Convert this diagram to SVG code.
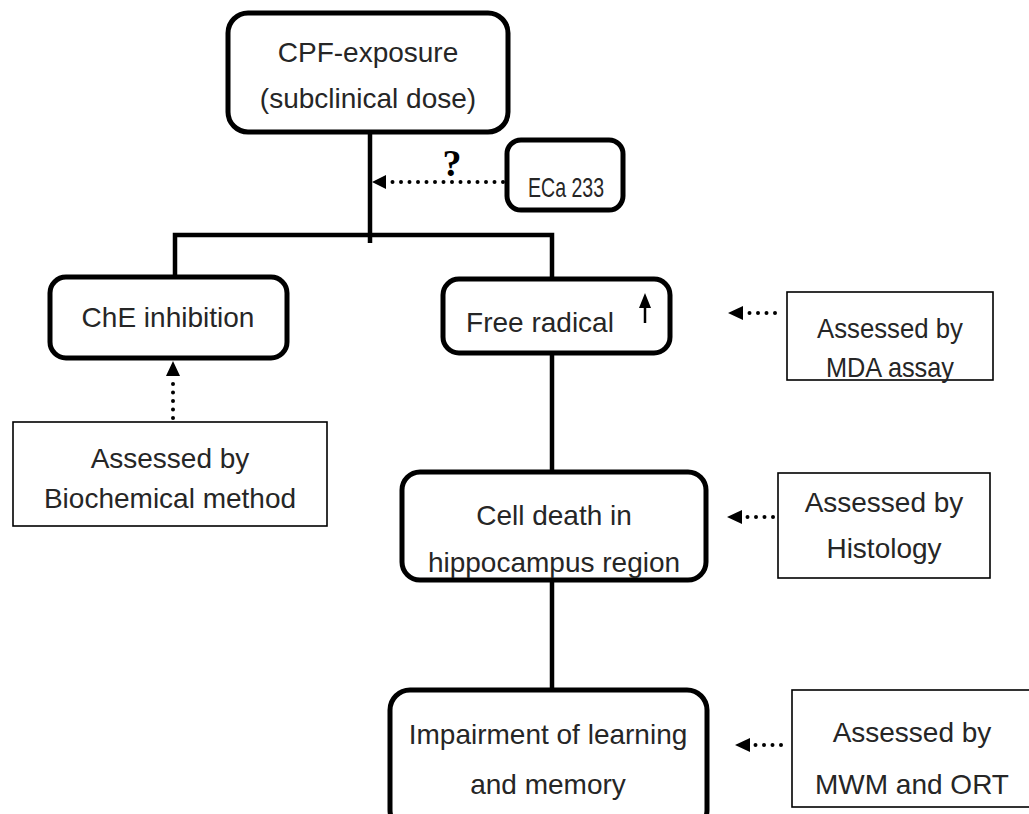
<svg xmlns="http://www.w3.org/2000/svg" width="1029" height="814" viewBox="0 0 1029 814">
  <style>
    .node { fill: #ffffff; stroke: #000000; stroke-width: 5; }
    .note { fill: #ffffff; stroke: #000000; stroke-width: 1.6; }
    .label { font-family: "Liberation Sans", Arial, sans-serif; font-size: 28px; fill: #262626; text-anchor: middle; }
    .wire { fill: none; stroke: #000000; stroke-width: 4.5; }
    .dots { fill: none; stroke: #000000; stroke-width: 4; stroke-linecap: round; stroke-dasharray: 0 8.5; }
    .head { fill: #000000; stroke: none; }
  </style>

  <!-- connectors -->
  <g id="connectors">
    <path class="wire" d="M370 132 V243"/>
    <path class="wire" d="M175 277 V235 H552 V280"/>
    <path class="wire" d="M552 353 V472"/>
    <path class="wire" d="M552 580 V690"/>

    <!-- ECa 233 to main trunk -->
    <path class="dots" d="M503 182 H388"/>
    <polygon class="head" points="372,182 386,175 386,189"/>
    <text x="452" y="176" font-family="'Liberation Serif', 'Times New Roman', serif" font-size="38" font-weight="bold" text-anchor="middle">?</text>

    <!-- assay notes to nodes -->
    <path class="dots" d="M173 418 V378"/>
    <polygon class="head" points="173,361 166,376 180,376"/>

    <path class="dots" d="M775 313 H749"/>
    <polygon class="head" points="728,313 743,306 743,320"/>

    <path class="dots" d="M773 517 H747"/>
    <polygon class="head" points="727,517 742,510 742,524"/>

    <path class="dots" d="M781 745 H755"/>
    <polygon class="head" points="735,745 750,738 750,752"/>
  </g>

  <g id="cpf-exposure">
    <rect class="node" x="228" y="13" width="280" height="119" rx="20"/>
    <text class="label" x="368" y="62">CPF-exposure</text>
    <text class="label" x="368" y="108">(subclinical dose)</text>
  </g>

  <g id="eca233">
    <rect class="node" x="507" y="140" width="116" height="70" rx="14"/>
    <text class="label" x="566" y="197" textLength="76" lengthAdjust="spacingAndGlyphs">ECa 233</text>
  </g>

  <g id="che-inhibition">
    <rect class="node" x="50" y="277" width="237" height="81" rx="16"/>
    <text class="label" x="168" y="327">ChE inhibition</text>
  </g>

  <g id="biochemical-note">
    <rect class="note" x="13" y="422" width="314" height="104"/>
    <text class="label" x="170" y="468">Assessed by</text>
    <text class="label" x="170" y="508">Biochemical method</text>
  </g>

  <g id="free-radical">
    <rect class="node" x="443" y="279" width="227" height="74" rx="16"/>
    <text class="label" x="540" y="332">Free radical</text>
    <line x1="645" y1="323" x2="645" y2="306" stroke="#000" stroke-width="2.5"/>
    <polygon class="head" points="645,293 639,308 651,308"/>
  </g>

  <g id="mda-note">
    <rect class="note" x="787" y="292" width="206" height="88"/>
    <text class="label" x="890" y="338" textLength="146" lengthAdjust="spacingAndGlyphs">Assessed by</text>
    <text class="label" x="890" y="377" textLength="128" lengthAdjust="spacingAndGlyphs">MDA assay</text>
  </g>

  <g id="cell-death">
    <rect class="node" x="402" y="472" width="304" height="108" rx="18"/>
    <text class="label" x="554" y="525">Cell death in</text>
    <text class="label" x="554" y="572">hippocampus region</text>
  </g>

  <g id="histology-note">
    <rect class="note" x="778" y="473" width="212" height="105"/>
    <text class="label" x="884" y="512">Assessed by</text>
    <text class="label" x="884" y="558">Histology</text>
  </g>

  <g id="impairment">
    <rect class="node" x="390" y="690" width="317" height="140" rx="20"/>
    <text class="label" x="548" y="744">Impairment of learning</text>
    <text class="label" x="548" y="794">and memory</text>
  </g>

  <g id="mwm-note">
    <rect class="note" x="792" y="690" width="250" height="117"/>
    <text class="label" x="912" y="742">Assessed by</text>
    <text class="label" x="912" y="794">MWM and ORT</text>
  </g>
</svg>
